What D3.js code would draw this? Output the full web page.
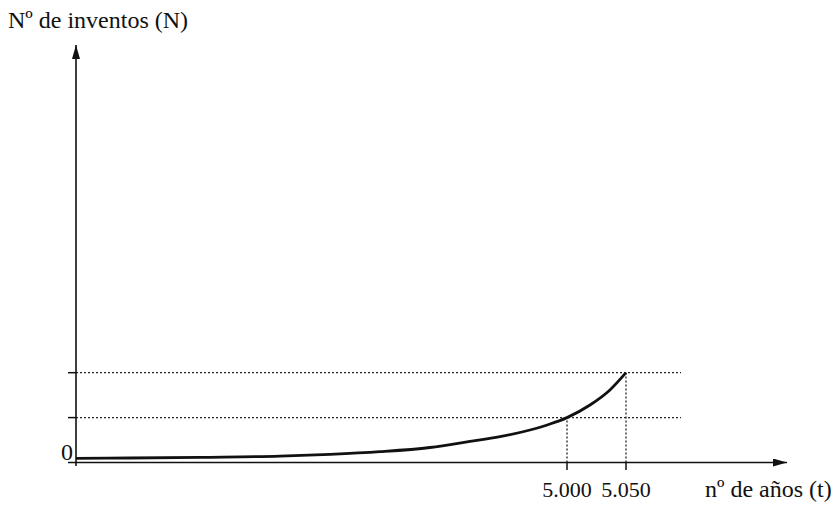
<!DOCTYPE html>
<html><head><meta charset="utf-8">
<script src="https://cdn.jsdelivr.net/npm/d3@7"></script>
<style>body{margin:0;background:#fff}svg{display:block}</style>
</head><body>
<script>
// Data (years t, relative number of inventions N)
const years = [0, 550, 1263, 2077, 2587, 3096, 3605, 4012, 4318, 4623, 4827, 5000, 5019.5, 5036.4, 5050];
const inventions = [0.094, 0.1, 0.116, 0.14, 0.18, 0.24, 0.334, 0.468, 0.575, 0.724, 0.857, 1.0, 1.28, 1.615, 2.0];
const markedYears = [5000, 5050];
const markedLevels = [1.0, 2.0];
const xTickLabels = ["5.000", "5.050"];
const yTitle = "Nº de inventos (N)";
const xTitle = "nº de años (t)";

const FONT = "Liberation Serif";
const W = 835, H = 506;
const svg = d3.select("body").append("svg").attr("width", W).attr("height", H);

const x = d3.scaleLinear().domain([0, 5000, 5050]).range([76, 567, 626]);
const y = d3.scaleLinear().domain([0, 2]).range([462.5, 372.7]);

const defs = svg.append("defs");
defs.append("marker").attr("id", "arr").attr("viewBox", "0 0 14 8")
  .attr("refX", 14).attr("refY", 4).attr("markerWidth", 14).attr("markerHeight", 8)
  .attr("markerUnits", "userSpaceOnUse").attr("orient", "auto")
  .append("path").attr("d", "M0,0 L14,4 L0,8 Z").attr("fill", "#111");

// dotted guides
const xEnd = 681;
svg.selectAll(".hg").data(markedLevels).join("line")
  .attr("x1", x(0)).attr("x2", xEnd).attr("y1", d => y(d)).attr("y2", d => y(d))
  .attr("stroke", "#222").attr("stroke-width", 1.3).attr("stroke-dasharray", "2,2");
svg.selectAll(".vg").data(markedYears).join("line")
  .attr("x1", d => x(d)).attr("x2", d => x(d)).attr("y1", y(0)).attr("y2", (d, i) => y(markedLevels[i]))
  .attr("stroke", "#222").attr("stroke-width", 1.3).attr("stroke-dasharray", "2,2");

// axes
svg.append("line").attr("x1", 68).attr("x2", 787).attr("y1", y(0)).attr("y2", y(0))
  .attr("stroke", "#111").attr("stroke-width", 1.6).attr("marker-end", "url(#arr)");
svg.append("line").attr("x1", x(0)).attr("x2", x(0)).attr("y1", 466).attr("y2", 45)
  .attr("stroke", "#111").attr("stroke-width", 1.6).attr("marker-end", "url(#arr)");

// y ticks
svg.selectAll(".yt").data(markedLevels).join("line")
  .attr("x1", 68).attr("x2", x(0)).attr("y1", d => y(d)).attr("y2", d => y(d))
  .attr("stroke", "#111").attr("stroke-width", 1.5);
// x ticks
svg.selectAll(".xt").data(markedYears).join("line")
  .attr("x1", d => x(d)).attr("x2", d => x(d)).attr("y1", y(0)).attr("y2", 470)
  .attr("stroke", "#111").attr("stroke-width", 1.5);

// curve
const line = d3.line().x((d, i) => x(years[i])).y(d => y(d)).curve(d3.curveMonotoneX);
svg.append("path").attr("d", line(inventions)).attr("fill", "none")
  .attr("stroke", "#111").attr("stroke-width", 2.8);

// labels
function txt(t, px, py, size, anchor) {
  return svg.append("text").attr("x", px).attr("y", py).attr("text-anchor", anchor || "start")
    .attr("font-family", FONT).attr("font-size", size).attr("fill", "#111").text(t);
}
xTickLabels.forEach((d, i) => txt(d, x(markedYears[i]), 497, 22, "middle"));
txt("0", 67, 460, 24, "middle");
txt(xTitle, 705, 497, 24);
txt(yTitle, 8, 28, 24);
</script>
</body></html>
